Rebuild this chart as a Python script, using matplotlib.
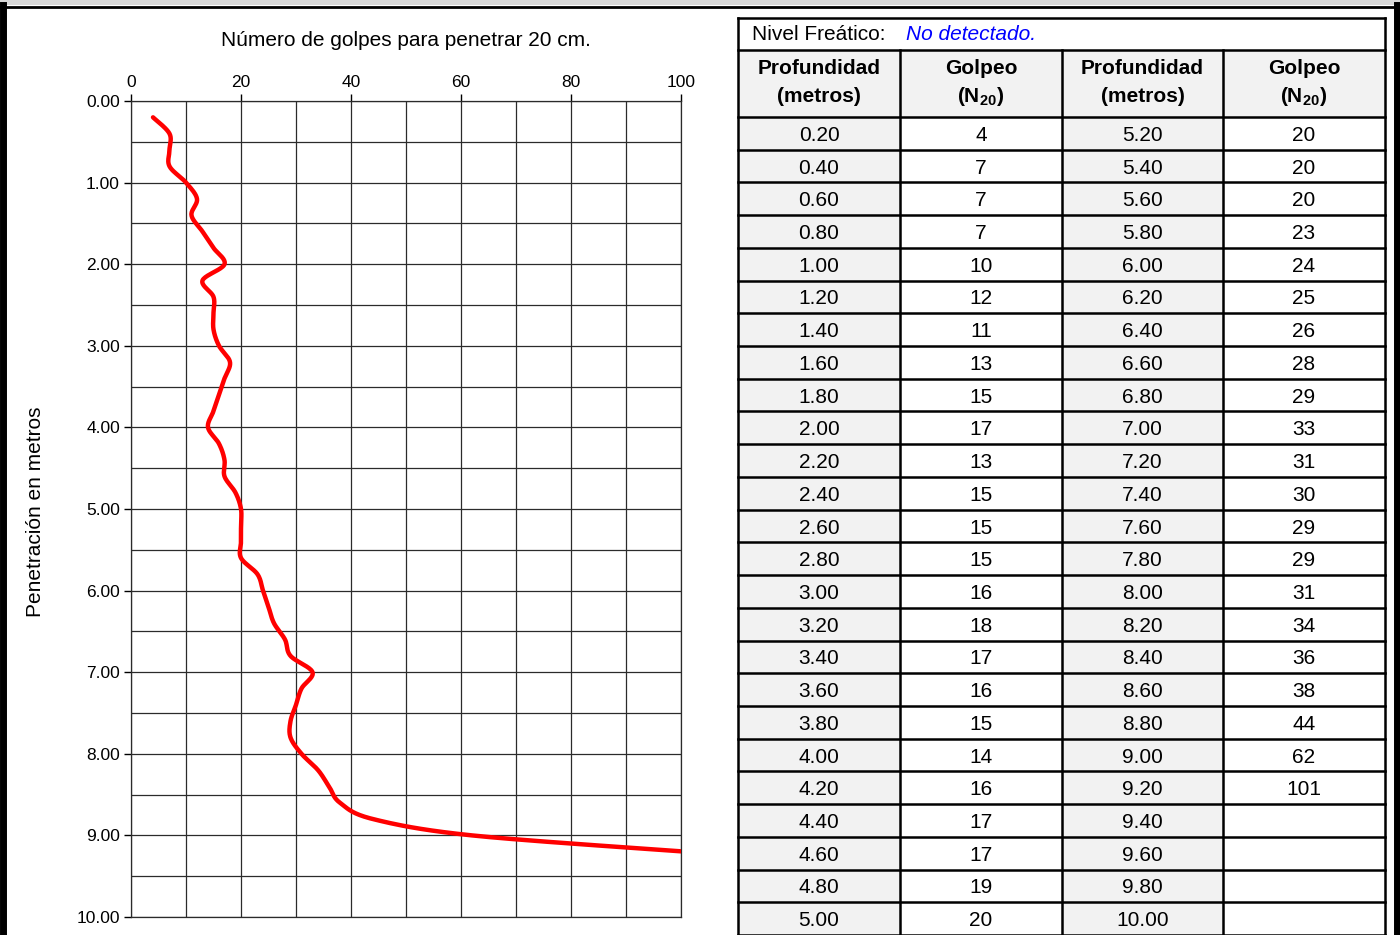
import numpy as np
import matplotlib
matplotlib.use("Agg")
import matplotlib.pyplot as plt
from matplotlib.patches import Rectangle
from matplotlib.lines import Line2D

plt.rcParams['font.family'] = ['Liberation Sans', 'DejaVu Sans']
plt.rcParams['mathtext.fontset'] = 'custom'
plt.rcParams['mathtext.rm'] = 'Liberation Sans'
plt.rcParams['mathtext.bf'] = 'Liberation Sans:bold'

# Penetration test record
depth = [0.2, 0.4, 0.6, 0.8, 1.0, 1.2, 1.4, 1.6, 1.8, 2.0, 2.2, 2.4, 2.6, 2.8, 3.0,
         3.2, 3.4, 3.6, 3.8, 4.0, 4.2, 4.4, 4.6, 4.8, 5.0, 5.2, 5.4, 5.6, 5.8, 6.0,
         6.2, 6.4, 6.6, 6.8, 7.0, 7.2, 7.4, 7.6, 7.8, 8.0, 8.2, 8.4, 8.6, 8.8, 9.0, 9.2]
blows = [4, 7, 7, 7, 10, 12, 11, 13, 15, 17, 13, 15, 15, 15, 16,
         18, 17, 16, 15, 14, 16, 17, 17, 19, 20, 20, 20, 20, 23, 24,
         25, 26, 28, 29, 33, 31, 30, 29, 29, 31, 34, 36, 38, 44, 62, 101]

table_depths_left = ["0.20", "0.40", "0.60", "0.80", "1.00", "1.20", "1.40", "1.60",
                     "1.80", "2.00", "2.20", "2.40", "2.60", "2.80", "3.00", "3.20",
                     "3.40", "3.60", "3.80", "4.00", "4.20", "4.40", "4.60", "4.80", "5.00"]
table_depths_right = ["5.20", "5.40", "5.60", "5.80", "6.00", "6.20", "6.40", "6.60",
                      "6.80", "7.00", "7.20", "7.40", "7.60", "7.80", "8.00", "8.20",
                      "8.40", "8.60", "8.80", "9.00", "9.20", "9.40", "9.60", "9.80", "10.00"]

title = "Número de golpes para penetrar 20 cm."
ylabel = "Penetración en metros"
water_label = "Nivel Freático:"
water_value = "No detectado."


def catmull_rom(xs, ys, n=20):
    """Smooth curve passing through every point (uniform Catmull-Rom as cubic Bezier)."""
    p = np.column_stack([xs, ys]).astype(float)
    p = np.vstack([p[0], p, p[-1]])
    out = []
    t = np.linspace(0, 1, n, endpoint=False)[:, None]
    for i in range(1, len(p) - 2):
        p0, p1, p2, p3 = p[i - 1], p[i], p[i + 1], p[i + 2]
        c1 = p1 + (p2 - p0) / 6.0
        c2 = p2 - (p3 - p1) / 6.0
        seg = ((1 - t) ** 3) * p1 + 3 * ((1 - t) ** 2) * t * c1 + 3 * (1 - t) * t ** 2 * c2 + t ** 3 * p2
        out.append(seg)
    out.append(p[-2][None, :])
    out = np.vstack(out)
    return out[:, 0], out[:, 1]


W, H = 1400, 935
fig = plt.figure(figsize=(W / 100, H / 100), dpi=100)


def fx(px):
    return px / W


def fy(py):
    return 1 - py / H


# Outer frame
fig.patches.append(Rectangle((0, fy(5)), 1, 5 / H, transform=fig.transFigure,
                             facecolor="#d9d9d9", edgecolor="none", zorder=0))
fig.add_artist(Line2D([0, 1], [fy(6.5), fy(6.5)], color="black", lw=2, transform=fig.transFigure))
fig.add_artist(Line2D([fx(3), fx(3)], [0, fy(5)], color="black", lw=5, transform=fig.transFigure))
fig.add_artist(Line2D([fx(1397), fx(1397)], [0, fy(5)], color="black", lw=5, transform=fig.transFigure))

# Chart
ax = fig.add_axes([fx(131), fy(917), fx(681) - fx(131), (917 - 101) / H])
ax.set_xlim(0, 100)
ax.set_ylim(10, 0)
ax.xaxis.tick_top()
ax.set_xticks(np.arange(0, 101, 20))
ax.set_xticks(np.arange(0, 101, 10), minor=True)
ax.set_yticks(np.arange(0, 10.01, 1))
ax.set_yticks(np.arange(0, 10.01, 0.5), minor=True)
ax.set_yticklabels([f"{v:.2f}" for v in np.arange(0, 10.01, 1)])
ax.tick_params(axis='both', which='major', labelsize=12.5, length=5, width=1, color="black")
ax.tick_params(axis='both', which='minor', length=0)
ax.tick_params(axis='x', pad=3)
ax.tick_params(axis='y', pad=3)
ax.grid(True, which='both', color="#2b2b2b", lw=0.9)
for s in ax.spines.values():
    s.set_color("#2b2b2b")
    s.set_linewidth(0.9)
ax.set_axisbelow(True)

cx, cy = catmull_rom(blows, depth)
ax.plot(cx, cy, color="#ff0000", lw=3.2, solid_capstyle="round", zorder=3)

fig.text(fx(406), fy(41), title, ha="center", va="center", fontsize=15)
fig.text(fx(36), fy(512), ylabel, ha="center", va="center", rotation=90, fontsize=15)

# Table
cols = [738, 900, 1062, 1223, 1385]
top, hdr_top, body_top = 18, 50, 117
row_h = (935 - body_top) / 25.0
gray = "#f2f2f2"
fs = 15


def rect(x0, y0, x1, y1, fc):
    fig.patches.append(Rectangle((fx(x0), fy(y1)), fx(x1) - fx(x0), (y1 - y0) / H,
                                 transform=fig.transFigure, facecolor=fc,
                                 edgecolor="none", zorder=1))


def hline(y, x0, x1, lw=1.8):
    fig.add_artist(Line2D([fx(x0), fx(x1)], [fy(y), fy(y)], color="black", lw=lw,
                          transform=fig.transFigure, zorder=2))


def vline(x, y0, y1, lw=1.8):
    fig.add_artist(Line2D([fx(x), fx(x)], [fy(y0), fy(y1)], color="black", lw=lw,
                          transform=fig.transFigure, zorder=2))


rect(cols[0], top, cols[4], hdr_top, "white")
for i in range(4):
    rect(cols[i], hdr_top, cols[i + 1], body_top, gray)
    rect(cols[i], body_top, cols[i + 1], 935, gray if i % 2 == 0 else "white")

hline(top, cols[0], cols[4])
hline(hdr_top, cols[0], cols[4])
hline(body_top, cols[0], cols[4])
for r in range(1, 26):
    hline(body_top + r * row_h, cols[0], cols[4])
vline(cols[0], top, 935)
vline(cols[4], top, 935)
for c in cols[1:4]:
    vline(c, hdr_top, 935)

fig.text(fx(752), fy(34), water_label, ha="left", va="center", fontsize=fs)
fig.text(fx(906), fy(34), water_value, ha="left", va="center", fontsize=fs,
         color="#0000ff", style="italic")

headers = [("Profundidad", "(metros)"), ("Golpeo", r"$\mathbf{(N_{20})}$"),
           ("Profundidad", "(metros)"), ("Golpeo", r"$\mathbf{(N_{20})}$")]
for i, (l1, l2) in enumerate(headers):
    xc = fx((cols[i] + cols[i + 1]) / 2)
    fig.text(xc, fy(68), l1, ha="center", va="center", fontsize=fs, fontweight="bold")
    fig.text(xc, fy(97), l2, ha="center", va="center", fontsize=fs, fontweight="bold")

right_vals = blows[25:]
for r in range(25):
    yc = fy(body_top + (r + 0.5) * row_h + 2)
    fig.text(fx((cols[0] + cols[1]) / 2), yc, table_depths_left[r], ha="center", va="center", fontsize=fs)
    fig.text(fx((cols[1] + cols[2]) / 2), yc, str(blows[r]), ha="center", va="center", fontsize=fs)
    fig.text(fx((cols[2] + cols[3]) / 2), yc, table_depths_right[r], ha="center", va="center", fontsize=fs)
    if r < len(right_vals):
        fig.text(fx((cols[3] + cols[4]) / 2), yc, str(right_vals[r]), ha="center", va="center", fontsize=fs)

fig.savefig("out.png", dpi=100)
